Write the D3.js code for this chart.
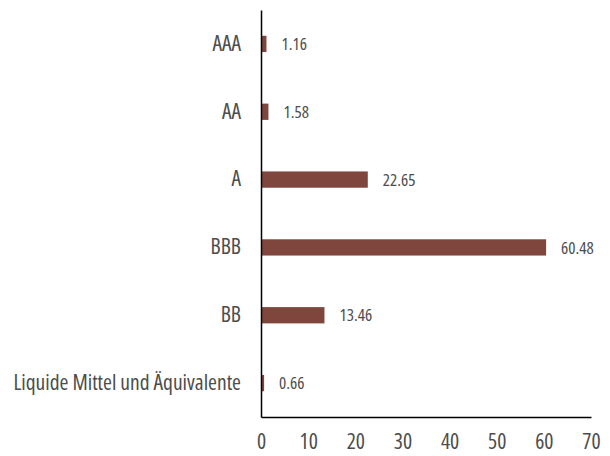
<!DOCTYPE html>
<html>
<head>
<meta charset="utf-8">
<script src="https://cdn.jsdelivr.net/npm/d3@7"></script>
<style>
  body { margin: 0; background: #fff; }
  text { font-family: "Open Sans", sans-serif; font-stretch: condensed; fill: #4d4d4d; }
</style>
</head>
<body>
<div class="center"></div>
<script>
// chart data
const categories = ["AAA", "AA", "A", "BBB", "BB", "Liquide Mittel und Äquivalente"];
const values = [1.16, 1.58, 22.65, 60.48, 13.46, 0.66];
const xTicks = [0, 10, 20, 30, 40, 50, 60, 70];

const margin = {top: 10, right: 19, bottom: 39, left: 261};
const width = 610 - margin.left - margin.right;
const height = 456 - margin.top - margin.bottom;

const xScale = d3.scaleLinear().domain([0, 70]).range([0, width]);
const yScale = d3.scaleBand().domain(categories).range([0, height]).paddingInner(0.76).paddingOuter(0.38);

const svg = d3.select(".center").append("svg")
    .attr("width", 610)
    .attr("height", 456)
  .append("g")
    .attr("transform", `translate(${margin.left},${margin.top})`);

// bars
svg.selectAll("rect.bar")
   .data(values)
   .enter().append("rect")
   .attr("class", "bar")
   .attr("x", 0)
   .attr("y", (d, i) => yScale(categories[i]))
   .attr("width", d => xScale(d))
   .attr("height", yScale.bandwidth())
   .style("fill", "#7e463d");

// value labels
svg.selectAll("text.val")
   .data(values)
   .enter().append("text")
   .attr("class", "val")
   .attr("x", d => xScale(d) + 15)
   .attr("y", (d, i) => yScale(categories[i]) + yScale.bandwidth() / 2)
   .attr("dy", "0.36em")
   .attr("font-size", "17px")
   .text(d => d.toFixed(2));

// y axis
const yAxis = d3.axisLeft(yScale).tickSize(0).tickPadding(20);
const gy = svg.append("g").call(yAxis);
gy.select(".domain").attr("stroke", "#000").attr("stroke-width", 1.5);
gy.selectAll("text").attr("font-size", "21.5px");

// x axis
const xAxis = d3.axisBottom(xScale).tickValues(xTicks).tickSize(0).tickPadding(17);
const gx = svg.append("g").attr("transform", `translate(0,${height})`).call(xAxis);
gx.select(".domain").attr("stroke", "#000").attr("stroke-width", 1.5);
gx.selectAll("text").attr("font-size", "21.5px");
</script>
</body>
</html>
